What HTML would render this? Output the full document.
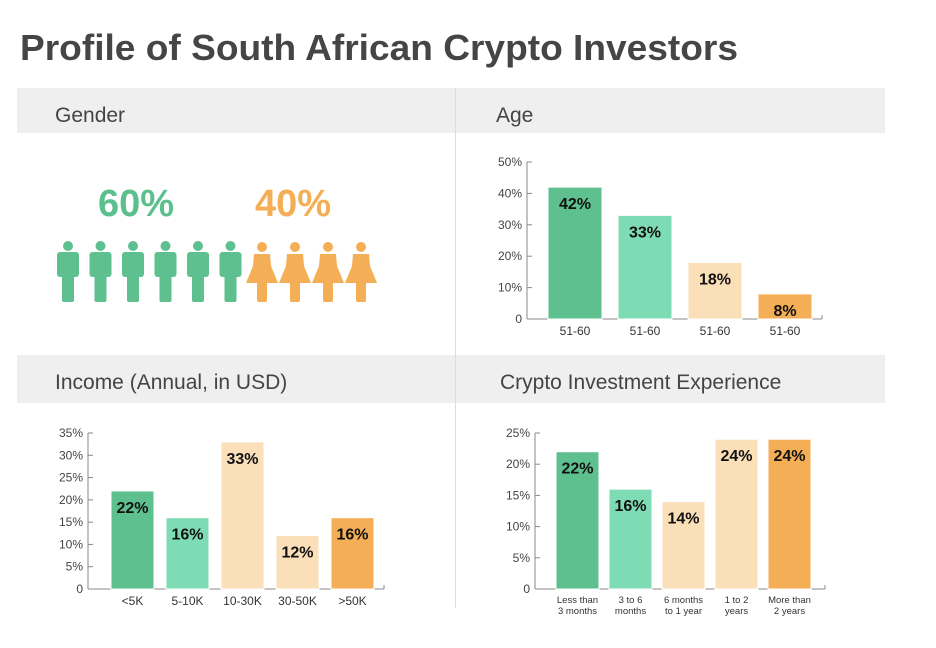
<!DOCTYPE html>
<html><head><meta charset="utf-8"><style>
body{margin:0;background:#fff;width:936px;height:648px;overflow:hidden;font-family:"Liberation Sans",sans-serif}
svg{display:block}
</style></head><body>
<svg id="s" width="936" height="648" xmlns="http://www.w3.org/2000/svg" font-family="Liberation Sans, sans-serif">
<text x="20" y="60" font-size="36" font-weight="bold" fill="#454545" textLength="718" lengthAdjust="spacingAndGlyphs">Profile of South African Crypto Investors</text>
<rect x="17" y="88" width="438" height="45" fill="#efefef"/>
<rect x="456" y="88" width="429" height="45" fill="#efefef"/>
<rect x="17" y="355" width="438" height="48" fill="#efefef"/>
<rect x="456" y="355" width="429" height="48" fill="#efefef"/>
<line x1="455.5" y1="88" x2="455.5" y2="608" stroke="#ddd"/>
<text x="55" y="122" font-size="21" fill="#444">Gender</text>
<text x="496" y="122" font-size="21" fill="#444">Age</text>
<text x="55" y="389" font-size="21" fill="#444">Income (Annual, in USD)</text>
<text x="500" y="389" font-size="21" fill="#444">Crypto Investment Experience</text>
<text x="136" y="216" font-size="38" font-weight="bold" fill="#5cc08e" text-anchor="middle">60%</text>
<text x="293" y="216" font-size="38" font-weight="bold" fill="#f4ae55" text-anchor="middle">40%</text>
<g id="people"></g>
<g id="charts"></g>
</svg>
<script>
const ageCats=["51-60","51-60","51-60","51-60"];
const ageVals=[42,33,18,8];
const ageTicks=["0","10%","20%","30%","40%","50%"];
const incCats=[["<5K"],["5-10K"],["10-30K"],["30-50K"],[">50K"]];
const incVals=[22,16,33,12,16];
const incTicks=["0","5%","10%","15%","20%","25%","30%","35%"];
const expCats=[["Less than","3 months"],["3 to 6","months"],["6 months","to 1 year"],["1 to 2","years"],["More than","2 years"]];
const expVals=[22,16,14,24,24];
const expTicks=["0","5%","10%","15%","20%","25%"];
const maleCount=6, femaleCount=4;

const NS="http://www.w3.org/2000/svg";
function mk(t,a,p){const e=document.createElementNS(NS,t);for(const k in a)e.setAttribute(k,a[k]);p.appendChild(e);return e;}
const G="#5ec08f",M="#7edcb4",P="#fadfb8",O="#f4ae55";
const pg=document.getElementById('people');
for(let i=0;i<maleCount;i++){
  const cx=68+i*32.5;
  const g=mk('g',{},pg);
  
  
  mk('circle',{cx:cx,cy:246,r:5,fill:G},g);
  mk('rect',{x:cx-11,y:252,width:22,height:25,rx:3,fill:G},g);
  mk('rect',{x:cx-6,y:272,width:12,height:30,rx:2,fill:G},g);
}
for(let i=0;i<femaleCount;i++){
  const cx=262+i*33;
  const g=mk('g',{},pg);
  
  
  mk('circle',{cx:cx,cy:247,r:5,fill:O},g);
  mk('path',{d:`M${cx-8} 254 H${cx+8} L${cx+9} 266 L${cx+16} 283 H${cx-16} L${cx-9} 266 Z`,fill:O},g);
  mk('rect',{x:cx-5,y:280,width:10,height:22,rx:2,fill:O},g);
}
const cg=document.getElementById('charts');
function chart(name,o){
  const g=mk('g',{},cg);
  
  
  const y=v=>o.y0-(v/o.max)*(o.y0-o.yTop);
  mk('line',{x1:o.ax,y1:o.yTop,x2:o.ax,y2:o.y0,stroke:'#888'},g);
  mk('line',{x1:o.ax,y1:o.y0,x2:o.axEnd,y2:o.y0,stroke:'#888'},g);
  mk('line',{x1:o.axEnd,y1:o.y0-4,x2:o.axEnd,y2:o.y0,stroke:'#888'},g);
  o.ticks.forEach((t,i)=>{
    const v=i*o.step,yy=y(v);
    mk('line',{x1:o.ax,y1:yy,x2:o.ax+5,y2:yy,stroke:'#888'},g);
    const tx=mk('text',{x:o.ax-5,y:yy+4,'font-size':12,fill:'#444','text-anchor':'end'},g);
    
    
    tx.textContent=t;
  });
  o.vals.forEach((v,i)=>{
    const x=o.x0+i*o.pitch, top=y(v);
    const r=mk('rect',{x:x,y:top,width:o.bw,height:o.y0-top,fill:o.colors[i],stroke:'#fff','stroke-width':1},g);
    
    
    const t=mk('text',{x:x+o.bw/2,y:top+22,'font-size':16,'font-weight':'bold',fill:'#111','text-anchor':'middle'},g);
    
    
    t.textContent=v+'%';
    const lines=Array.isArray(o.cats[i])?o.cats[i]:[o.cats[i]];
    lines.forEach((l,j)=>{
      const c=mk('text',{x:x+o.bw/2,y:o.y0+o.labOff+j*11,'font-size':o.labSize,fill:'#333','text-anchor':'middle'},g);
      
      
      c.textContent=l;
    });
  });
}
chart('age-chart',{ax:527,axEnd:822,y0:319,yTop:162,max:50,step:10,ticks:ageTicks,vals:ageVals,cats:ageCats,x0:548,pitch:70,bw:54,colors:[G,M,P,O],labOff:16,labSize:12});
chart('income-chart',{ax:88,axEnd:384,y0:589,yTop:433,max:35,step:5,ticks:incTicks,vals:incVals,cats:incCats,x0:111,pitch:55,bw:43,colors:[G,M,P,P,O],labOff:16,labSize:12});
chart('experience-chart',{ax:535,axEnd:825,y0:589,yTop:433,max:25,step:5,ticks:expTicks,vals:expVals,cats:expCats,x0:556,pitch:53,bw:43,colors:[G,M,P,P,O],labOff:14,labSize:9.5});
</script>
</body></html>
